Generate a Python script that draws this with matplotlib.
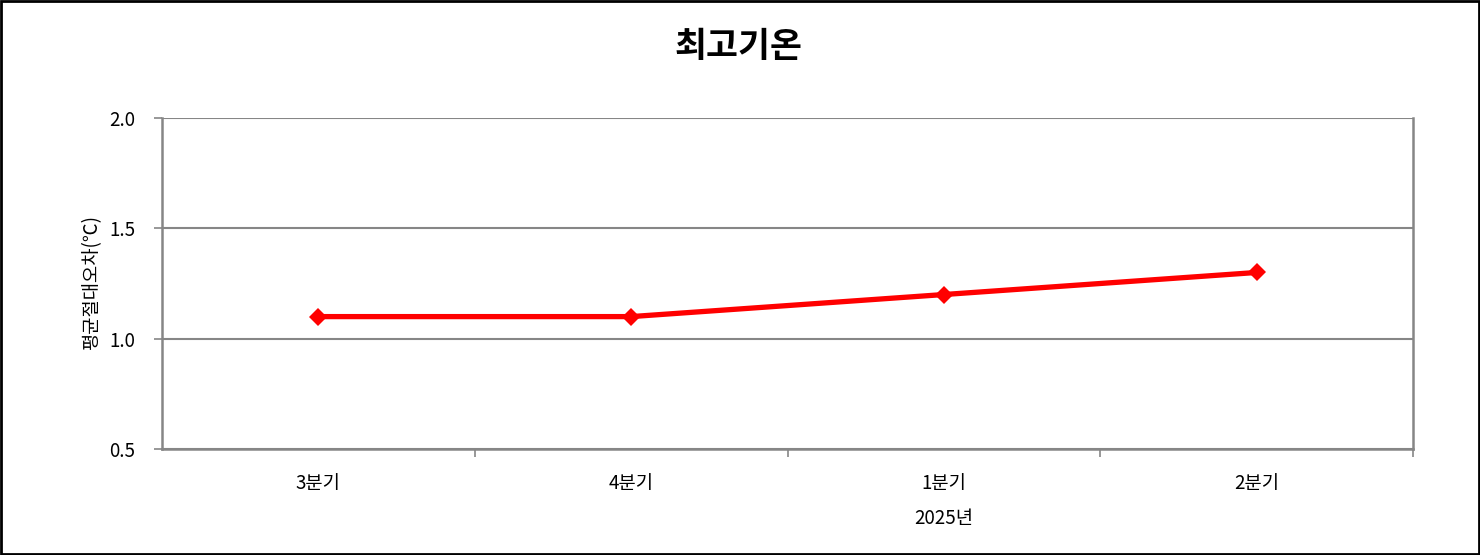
import matplotlib
matplotlib.use("Agg")
import matplotlib.pyplot as plt
from matplotlib.patches import Rectangle

plt.rcParams['font.family'] = ['Noto Sans CJK KR', 'DejaVu Sans']

# data
quarters = ['3분기', '4분기', '1분기', '2분기']
year_label = '2025년'
year_pos = 2
mae = [1.1, 1.1, 1.2, 1.3]
y_ticks = [0.5, 1.0, 1.5, 2.0]

grey = '#868686'

fig = plt.figure(figsize=(14.8, 5.55), dpi=100)
ax = fig.add_axes([162 / 1480, 1 - 449 / 555, (1413 - 162) / 1480, (449 - 118) / 555])

x = list(range(len(quarters)))
ax.plot(x, mae, color='#ff0000', linewidth=3.8, marker='D', markersize=9,
        markeredgewidth=0, zorder=3, clip_on=False)

ax.set_xlim(-0.5, len(quarters) - 0.5)
ax.set_ylim(0.5, 2.0)
ax.set_yticks(y_ticks)
ax.set_yticklabels([f"{v:.1f}" for v in y_ticks], fontsize=13.5)
ax.yaxis.grid(True, color=grey, linewidth=1.5)
ax.set_axisbelow(True)

# category ticks sit between categories, labels at centres
ax.set_xticks([i + 0.5 for i in range(len(quarters))])
ax.set_xticklabels([])
ax.set_xticks(x, minor=True)
ax.set_xticklabels(quarters, minor=True, fontsize=13.5)
ax.tick_params(axis='x', which='minor', length=0, pad=17)
ax.tick_params(axis='x', which='major', length=6, color=grey, width=1.2)
ax.tick_params(axis='y', length=6, color=grey, width=1.2, pad=13)

ax.text(year_pos, -0.21, year_label, transform=ax.get_xaxis_transform(),
        ha='center', va='center', fontsize=13.5)

for side in ['left', 'right', 'bottom']:
    ax.spines[side].set_color(grey)
    ax.spines[side].set_linewidth(1.8)
ax.spines['top'].set_visible(False)

fig.text(92 / 1480, 1 - 283 / 555, '평균절대오차(℃)', rotation=90, ha='center', va='center',
         fontsize=13.5)

fig.text(738 / 1480, 1 - 47 / 555, '최고기온', ha='center', va='center',
         fontsize=25, fontweight='bold')

fig.patches.append(Rectangle((0.001, 0.002), 0.998, 0.996, transform=fig.transFigure,
                             fill=False, edgecolor='black', linewidth=2))

fig.savefig('out.png', dpi=100)
